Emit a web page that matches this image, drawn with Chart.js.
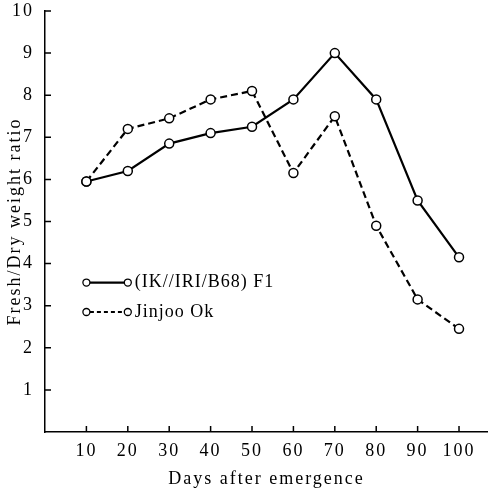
<!DOCTYPE html>
<html>
<head>
<meta charset="utf-8">
<script src="https://cdn.jsdelivr.net/npm/chart.js@4/dist/chart.umd.min.js"></script>
<style>
  html, body { margin: 0; padding: 0; background: #fff; }
  #wrap { position: relative; width: 488px; height: 490px; }
</style>
</head>
<body>
<div id="wrap"><canvas id="ratioChart"></canvas></div>
<script>
// data
const days = [10, 20, 30, 40, 50, 60, 70, 80, 90, 100];
const hybridF1 = [5.95, 6.2, 6.85, 7.1, 7.25, 7.9, 9.0, 7.9, 5.5, 4.15];
const jinjooOk = [5.95, 7.2, 7.45, 7.9, 8.1, 6.15, 7.5, 4.9, 3.15, 2.45];
const seriesNames = ['(IK//IRI/B68) F1', 'Jinjoo Ok'];
const yTicks = [1, 2, 3, 4, 5, 6, 7, 8, 9, 10];
const xTicks = [10, 20, 30, 40, 50, 60, 70, 80, 90, 100];

const serif = "'Liberation Serif', 'DejaVu Serif', serif";
const toPoints = vals => vals.map((v, i) => ({ x: days[i], y: v }));

// small inward tick marks, both axes
const inwardTicks = {
  id: 'inwardTicks',
  afterDraw(chart) {
    const { ctx, chartArea, scales } = chart;
    ctx.save();
    ctx.strokeStyle = '#000';
    ctx.lineWidth = 1.5;
    ctx.beginPath();
    yTicks.forEach(t => {
      const y = scales.y.getPixelForValue(t);
      ctx.moveTo(chartArea.left, y);
      ctx.lineTo(chartArea.left + 6, y);
    });
    xTicks.forEach(t => {
      const x = scales.x.getPixelForValue(t);
      ctx.moveTo(x, chartArea.bottom);
      ctx.lineTo(x, chartArea.bottom - 6);
    });
    ctx.stroke();
    ctx.restore();
  }
};

// legend drawn inside the plot, lower left
const innerLegend = {
  id: 'innerLegend',
  afterDatasetsDraw(chart) {
    const { ctx, scales } = chart;
    const x1 = scales.x.getPixelForValue(10);
    const x2 = scales.x.getPixelForValue(20);
    const rows = [3.55, 2.85];
    ctx.save();
    chart.data.datasets.forEach((ds, i) => {
      const y = scales.y.getPixelForValue(rows[i]);
      ctx.strokeStyle = '#000';
      ctx.lineWidth = ds.borderWidth;
      ctx.setLineDash(i === 0 ? [] : [4, 3]);
      ctx.beginPath();
      ctx.moveTo(x1 + 3.5, y);
      ctx.lineTo(x2 - 3.5, y);
      ctx.stroke();
      ctx.setLineDash([]);
      ctx.lineWidth = 1.3;
      ctx.fillStyle = '#fff';
      [x1, x2].forEach(cx => {
        ctx.beginPath();
        ctx.arc(cx, y, 3.5, 0, Math.PI * 2);
        ctx.fill();
        ctx.stroke();
      });
      ctx.fillStyle = '#000';
      ctx.font = '18px ' + serif;
      ctx.letterSpacing = '1px';
      ctx.textBaseline = 'middle';
      ctx.fillText(ds.label, x2 + 7, y);
    });
    ctx.restore();
  }
};

const spacing = {
  id: 'spacing',
  beforeDraw(chart) { chart.ctx.letterSpacing = '2px'; }
};

new Chart(document.getElementById('ratioChart'), {
  type: 'line',
  data: {
    datasets: [{
      label: seriesNames[0],
      data: toPoints(hybridF1),
      borderColor: '#000',
      borderWidth: 2.2,
      pointRadius: 4.5,
      pointBorderWidth: 1.5,
      pointBackgroundColor: '#fff',
      pointBorderColor: '#000',
      tension: 0
    }, {
      label: seriesNames[1],
      data: toPoints(jinjooOk),
      borderColor: '#000',
      borderWidth: 2.2,
      borderDash: [7, 4],
      pointRadius: 4.5,
      pointBorderWidth: 1.5,
      pointBackgroundColor: '#fff',
      pointBorderColor: '#000',
      tension: 0
    }]
  },
  options: {
    responsive: true,
    maintainAspectRatio: false,
    animation: false,
    layout: { autoPadding: false, padding: { top: 11, right: 0, left: 0, bottom: 0 } },
    plugins: { legend: { display: false }, tooltip: { enabled: false } },
    scales: {
      x: {
        type: 'linear',
        min: 0,
        max: 107,
        afterFit: s => { s.height = 58; s.paddingRight = 0; s.paddingLeft = 0; },
        afterBuildTicks: s => { s.ticks = xTicks.map(v => ({ value: v })); },
        border: { color: '#000', width: 1.5 },
        grid: { display: false },
        ticks: { color: '#000', padding: 0, maxRotation: 0, font: { family: serif, size: 18 } },
        title: {
          display: true,
          text: 'Days after emergence',
          color: '#000',
          padding: { top: 2, bottom: 0 },
          font: { family: serif, size: 18 }
        }
      },
      y: {
        min: 0,
        max: 10,
        afterFit: s => { s.width = 45; s.paddingTop = 0; s.paddingBottom = 0; },
        afterBuildTicks: s => { s.ticks = yTicks.map(v => ({ value: v })); },
        border: { color: '#000', width: 1.5 },
        grid: { display: false },
        ticks: { color: '#000', padding: 3, font: { family: serif, size: 18 } },
        title: {
          display: true,
          text: 'Fresh/Dry weight ratio',
          color: '#000',
          padding: { top: 4, bottom: 0 },
          font: { family: serif, size: 18 }
        }
      }
    }
  },
  plugins: [spacing, inwardTicks, innerLegend]
});
</script>
</body>
</html>
